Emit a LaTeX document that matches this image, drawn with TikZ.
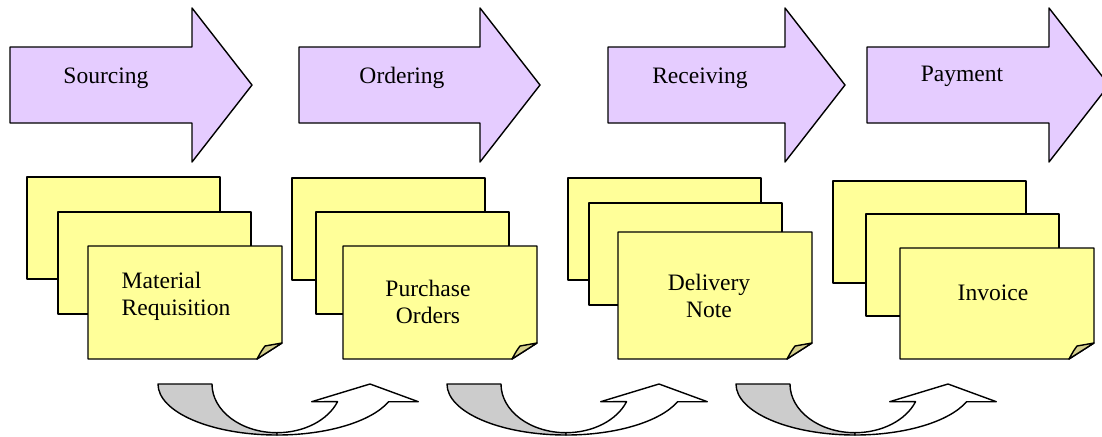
\documentclass[tikz,border=0pt]{standalone}
\usepackage{fontspec}
\setmainfont{Liberation Serif}
\definecolor{lilac}{RGB}{229,204,255}
\definecolor{paper}{RGB}{255,255,153}
\definecolor{curl}{RGB}{214,208,140}
\begin{document}
\begin{tikzpicture}[x=0.2mm,y=-0.2mm,line join=round,thick,
	phase/.style={draw,fill=lilac},
	sheet/.style={draw,fill=paper},
	lbl/.style={font=\fontsize{13.4}{15.5}\selectfont,align=center,inner sep=0pt}]
	\useasboundingbox (0,0) rectangle (1102,436);
	\foreach \x/\hx/\n/\txt/\tx/\ty in {10/192/sourcing/Sourcing/106/78, 299/480/ordering/Ordering/402/78, 608/785/receiving/Receiving/700/78, 867/1049/payment/Payment/962/76}
	{
		\draw[phase] (\x,47) -- (\hx,47) -- (\hx,8) -- (\hx+60,85) -- (\hx,162) -- (\hx,123) -- (\x,123) -- cycle;
		\node[lbl] (\n) at (\tx,\ty) {\txt};
	}
	\foreach \ax/\ay/\bx/\by/\cx/\cy in {27/177/58/212/88/246, 292/178/316/212/343/246, 568/178/589/203/618/232, 833/181/866/214/900/248}
	{
		\draw[sheet] (\ax,\ay) rectangle ++(193,102);
		\draw[sheet] (\bx,\by) rectangle ++(193,102);
		\draw[sheet] (\cx,\cy) -- (\cx+194,\cy) -- (\cx+194,343) -- (\cx+169,359) -- (\cx,359) -- cycle;
		\draw[fill=curl] (\cx+194,343) -- (\cx+177,346) .. controls (\cx+174,350) .. (\cx+169,359) -- cycle;
	}
	\node[lbl,align=left,anchor=west] (requisition) at (121,296) {Material\\Requisition};
	\node[lbl] (orders) at (428,302) {Purchase\\Orders};
	\node[lbl] (delivery) at (709,296) {Delivery\\Note};
	\node[lbl] (invoice) at (993,293) {Invoice};
	\foreach \s in {0,289,578}
	{
		\draw[fill=black!20] (158+\s,384) -- (212+\s,384) arc[start angle=180,end angle=90,x radius=65,y radius=48.7] -- (277+\s,435) arc[start angle=90,end angle=180,x radius=119,y radius=51] -- cycle;
		\draw[fill=white] (277+\s,432.7) arc[start angle=90,end angle=21.3,x radius=65,y radius=48.7] -- (311.7+\s,401.7) -- (370+\s,384) -- (418.3+\s,401.7) -- (388.6+\s,401.7) arc[start angle=20.3,end angle=90,x radius=119,y radius=51] -- cycle;
	}
\end{tikzpicture}
\end{document}
